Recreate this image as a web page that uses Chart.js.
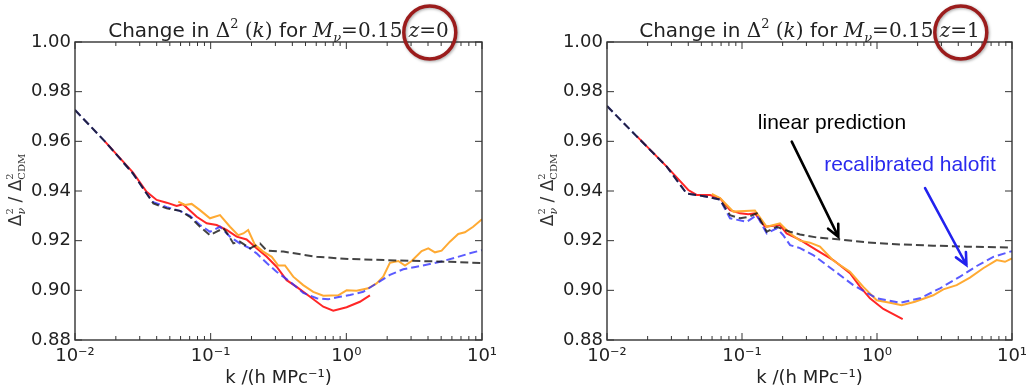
<!DOCTYPE html>
<html>
<head>
<meta charset="utf-8">
<script src="https://cdn.jsdelivr.net/npm/chart.js@4.4.0/dist/chart.umd.min.js"></script>
<style>
  html, body { margin: 0; padding: 0; background: #fff; }
  #wrap { position: relative; width: 1027px; height: 390px; overflow: hidden; }
  canvas { position: absolute; top: 0; }
</style>
</head>
<body>
<div id="wrap">
  <canvas id="left" width="513" height="390" style="left:0"></canvas>
  <canvas id="right" width="530" height="390" style="left:513px"></canvas>
</div>
<script>
// axes
const xTicks = [0.01, 0.1, 1, 10];
const xTickLabels = ['10\u207B\u00B2', '10\u207B\u00B9', '10\u2070', '10\u00B9'];
const yTicks = [0.88, 0.90, 0.92, 0.94, 0.96, 0.98, 1.00];
const yTickLabels = ['0.88', '0.90', '0.92', '0.94', '0.96', '0.98', '1.00'];

// z = 0 panel
const kLin0 = [0.01, 0.0166, 0.0267, 0.0337, 0.0378, 0.0474, 0.0594, 0.0704, 0.0834, 0.0988, 0.1107, 0.124, 0.135, 0.147, 0.164, 0.195, 0.231, 0.259, 0.343, 0.604, 1.064, 2.48, 5.80, 10];
const lin0 = [0.9726, 0.960, 0.9471, 0.9390, 0.9350, 0.9330, 0.9320, 0.9296, 0.9256, 0.9222, 0.9236, 0.9250, 0.9222, 0.9189, 0.9196, 0.9169, 0.9189, 0.9160, 0.9156, 0.9135, 0.9126, 0.9120, 0.9115, 0.9110];
const kHalo0 = [0.01, 0.0166, 0.0267, 0.0337, 0.0378, 0.0474, 0.0594, 0.0704, 0.0834, 0.0988, 0.1172, 0.1388, 0.164, 0.195, 0.218, 0.259, 0.306, 0.384, 0.481, 0.604, 0.736, 0.898, 1.064, 1.332, 1.671, 2.094, 2.625, 3.294, 4.127, 5.17, 6.50, 8.14, 10];
const halo0 = [0.9726, 0.960, 0.9471, 0.9390, 0.9355, 0.9335, 0.9320, 0.9300, 0.9263, 0.9236, 0.9256, 0.9216, 0.9189, 0.9169, 0.9149, 0.9110, 0.9075, 0.9035, 0.8990, 0.8968, 0.8964, 0.8974, 0.8981, 0.8994, 0.9028, 0.9062, 0.9085, 0.9095, 0.9106, 0.9118, 0.9133, 0.9149, 0.9162];
const kSim0 = [0.0166, 0.0267, 0.0337, 0.040, 0.0474, 0.0561, 0.0625, 0.0789, 0.0935, 0.1107, 0.131, 0.1555, 0.184, 0.218, 0.259, 0.306, 0.363, 0.430, 0.540, 0.676, 0.801, 1.005, 1.259, 1.492];
const sim0 = [0.960, 0.9475, 0.9397, 0.9364, 0.9353, 0.9340, 0.9347, 0.9296, 0.9270, 0.9263, 0.9243, 0.9216, 0.9205, 0.9169, 0.9135, 0.9095, 0.9041, 0.9014, 0.8974, 0.8934, 0.8918, 0.8932, 0.8954, 0.8980];
const kOrig0 = [0.0577, 0.0647, 0.0724, 0.0834, 0.0988, 0.1172, 0.1388, 0.1595, 0.174, 0.189, 0.212, 0.244, 0.282, 0.315, 0.353, 0.406, 0.481, 0.570, 0.676, 0.871, 1.005, 1.19, 1.449, 1.671, 1.87, 2.094, 2.415, 2.705, 3.03, 3.59, 4.02, 4.50, 5.04, 5.80, 6.68, 7.48, 8.61, 10];
const orig0 = [0.9357, 0.9344, 0.9348, 0.9323, 0.9290, 0.9303, 0.9256, 0.9222, 0.9229, 0.9243, 0.9183, 0.9156, 0.9135, 0.9100, 0.9100, 0.9055, 0.9021, 0.8994, 0.8978, 0.8980, 0.9000, 0.8998, 0.9008, 0.9028, 0.9055, 0.9111, 0.9118, 0.9100, 0.9118, 0.9158, 0.9169, 0.9153, 0.9160, 0.9196, 0.9227, 0.9234, 0.9256, 0.9286];

// z = 1 panel
const kLin1 = [0.01, 0.0166, 0.0277, 0.0389, 0.0548, 0.0688, 0.0815, 0.0967, 0.1114, 0.1285, 0.1525, 0.181, 0.202, 0.227, 0.269, 0.357, 0.532, 0.839, 1.48, 2.61, 4.62, 10];
const lin1 = [0.9742, 0.962, 0.9498, 0.939, 0.9377, 0.9365, 0.9303, 0.929, 0.9296, 0.931, 0.9236, 0.9256, 0.9246, 0.9236, 0.9225, 0.9213, 0.9205, 0.9193, 0.9185, 0.918, 0.9176, 0.9172];
const kHalo1 = [0.01, 0.0166, 0.0277, 0.0389, 0.0548, 0.0688, 0.0815, 0.1084, 0.1285, 0.1525, 0.181, 0.202, 0.227, 0.269, 0.337, 0.474, 0.667, 0.995, 1.48, 2.08, 2.93, 4.12, 5.48, 7.27, 10];
const halo1 = [0.9742, 0.962, 0.9498, 0.939, 0.9377, 0.9365, 0.929, 0.9276, 0.9303, 0.9229, 0.925, 0.9222, 0.9182, 0.9170, 0.9142, 0.9082, 0.9021, 0.8968, 0.8950, 0.8968, 0.9008, 0.9055, 0.9098, 0.9135, 0.9158];
const kSim1 = [0.0166, 0.0277, 0.040, 0.0461, 0.058, 0.0688, 0.0815, 0.0967, 0.1114, 0.1247, 0.148, 0.191, 0.214, 0.269, 0.357, 0.474, 0.631, 0.748, 0.887, 1.114, 1.55];
const sim1 = [0.9621, 0.9498, 0.9404, 0.9384, 0.9384, 0.937, 0.9323, 0.931, 0.9306, 0.931, 0.9256, 0.9263, 0.9229, 0.9203, 0.9162, 0.9122, 0.9069, 0.9015, 0.8968, 0.8925, 0.8884];
const kOrig1 = [0.0597, 0.0688, 0.0863, 0.1247, 0.1525, 0.191, 0.227, 0.269, 0.319, 0.378, 0.474, 0.631, 0.792, 0.995, 1.248, 1.524, 1.91, 2.61, 3.10, 3.89, 4.88, 6.12, 7.70, 8.87, 10];
const orig1 = [0.9388, 0.9372, 0.9317, 0.9321, 0.9256, 0.927, 0.9229, 0.920, 0.9192, 0.9176, 0.9120, 0.9075, 0.9014, 0.8960, 0.8950, 0.8940, 0.8954, 0.8980, 0.9004, 0.9021, 0.9051, 0.9089, 0.9122, 0.9115, 0.9129];

// annotation anchors (k, ratio) for the z = 1 panel
const linNote = { text: 'linear prediction', k: 0.464, v: 0.9674, from: [0.2336, 0.9599], to: [0.517, 0.9216] };
const haloNote = { text: 'recalibrated halofit', k: 1.755, v: 0.9505, from: [2.27, 0.9412], to: [4.60, 0.9102] };

const SANS = '"DejaVu Sans"';
const SERIF = '"DejaVu Serif"';

function pts(ks, vs) {
    return ks.map((k, i) => ({ x: k, y: vs[i] }));
}

function layoutRuns(ctx, runs) {
    let x = 0, prevX = 0, prevW = 0;
    const out = [];
    for (const r of runs) {
        ctx.font = r.f;
        const w = ctx.measureText(r.t).width;
        if (r.st) {
            out.push({ ...r, x: prevX, w });
            x = prevX + Math.max(prevW, w);
        } else {
            out.push({ ...r, x, w });
            prevX = x; prevW = w;
            x += w;
        }
    }
    return { items: out, width: x };
}

function drawRuns(ctx, runs, cx, base) {
    const lay = layoutRuns(ctx, runs);
    const x0 = cx - lay.width / 2;
    ctx.textBaseline = 'alphabetic';
    ctx.textAlign = 'left';
    for (const it of lay.items) {
        ctx.font = it.f;
        ctx.fillText(it.t, x0 + it.x, base + (it.dy || 0));
    }
    return lay.items.map(it => ({ ...it, x: x0 + it.x }));
}

function arrow(ctx, x0, y0, x1, y1, color) {
    const a = Math.atan2(y1 - y0, x1 - x0);
    const h = 13, spread = 0.45;
    ctx.strokeStyle = color;
    ctx.lineWidth = 2.6;
    ctx.lineCap = 'round';
    ctx.beginPath();
    ctx.moveTo(x0, y0);
    ctx.lineTo(x1, y1);
    ctx.moveTo(x1 - h * Math.cos(a - spread), y1 - h * Math.sin(a - spread));
    ctx.lineTo(x1, y1);
    ctx.lineTo(x1 - h * Math.cos(a + spread), y1 - h * Math.sin(a + spread));
    ctx.stroke();
}

const decor = {
    id: 'decor',
    afterDatasetsDraw(chart, args, opts) {
        const { ctx, chartArea: a, scales: { x, y } } = chart;
        ctx.save();
        // frame
        ctx.strokeStyle = '#333';
        ctx.lineWidth = 1.4;
        ctx.strokeRect(a.left, a.top, a.right - a.left, a.bottom - a.top);
        // inward ticks
        ctx.lineWidth = 1;
        ctx.beginPath();
        for (let i = 0; i < xTicks.length; i++) {
            const px = x.getPixelForValue(xTicks[i]);
            ctx.moveTo(px, a.bottom); ctx.lineTo(px, a.bottom - 7);
            ctx.moveTo(px, a.top); ctx.lineTo(px, a.top + 7);
            if (i < xTicks.length - 1) {
                for (let m = 2; m <= 9; m++) {
                    const mx = x.getPixelForValue(xTicks[i] * m);
                    ctx.moveTo(mx, a.bottom); ctx.lineTo(mx, a.bottom - 4);
                    ctx.moveTo(mx, a.top); ctx.lineTo(mx, a.top + 4);
                }
            }
        }
        for (const v of yTicks) {
            const py = y.getPixelForValue(v);
            ctx.moveTo(a.left, py); ctx.lineTo(a.left + 7, py);
            ctx.moveTo(a.right, py); ctx.lineTo(a.right - 7, py);
        }
        ctx.stroke();

        // annotations
        if (opts.notes) {
            ctx.fillStyle = '#000';
            ctx.font = '21px "Liberation Sans"';
            ctx.textAlign = 'center';
            ctx.textBaseline = 'middle';
            ctx.fillText(linNote.text, x.getPixelForValue(linNote.k), y.getPixelForValue(linNote.v));
            ctx.fillStyle = '#2a2aee';
            ctx.fillText(haloNote.text, x.getPixelForValue(haloNote.k), y.getPixelForValue(haloNote.v));
            arrow(ctx, x.getPixelForValue(linNote.from[0]), y.getPixelForValue(linNote.from[1]),
                x.getPixelForValue(linNote.to[0]), y.getPixelForValue(linNote.to[1]), '#000');
            arrow(ctx, x.getPixelForValue(haloNote.from[0]), y.getPixelForValue(haloNote.from[1]),
                x.getPixelForValue(haloNote.to[0]), y.getPixelForValue(haloNote.to[1]), '#2222ee');
        }
        ctx.restore();
    },
    afterDraw(chart, args, opts) {
        const { ctx, chartArea: a } = chart;
        ctx.save();
        ctx.fillStyle = '#222';
        // title with math parts
        const runs = [
            { t: 'Change in ', f: '20px ' + SANS },
            { t: '\u0394', f: '20px ' + SERIF },
            { t: '2', f: '13px ' + SERIF, dy: -9 },
            { t: ' (', f: '20px ' + SERIF },
            { t: 'k', f: 'italic 20px ' + SERIF },
            { t: ')', f: '20px ' + SERIF },
            { t: ' for ', f: '20px ' + SANS },
            { t: 'M', f: 'italic 20px ' + SERIF },
            { t: '\u03BD', f: 'italic 13px ' + SERIF, dy: 5 },
            { t: '=0.15', f: '20px ' + SERIF },
            { t: ' ', f: '20px ' + SERIF },
            { t: 'z', f: 'italic 20px ' + SERIF, mark: true },
            { t: '=' + opts.z, f: '20px ' + SERIF, mark: true }
        ];
        const placed = drawRuns(ctx, runs, (a.left + a.right) / 2, 37);
        const marked = placed.filter(p => p.mark);
        const mx0 = marked[0].x, mx1 = marked[marked.length - 1].x + marked[marked.length - 1].w;
        ctx.strokeStyle = '#9b1c1c';
        ctx.lineWidth = 3.5;
        ctx.shadowColor = 'rgba(0,0,0,0.35)';
        ctx.shadowBlur = 3;
        ctx.shadowOffsetX = 1;
        ctx.shadowOffsetY = 1;
        ctx.beginPath();
        ctx.ellipse((mx0 + mx1) / 2 + 1, 32.5, 26, 26.5, 0, 0, Math.PI * 2);
        ctx.stroke();
        ctx.shadowColor = 'transparent';

        // y axis label, rotated
        ctx.translate(a.left - 54.5, (a.top + a.bottom) / 2 - 1);
        ctx.rotate(-Math.PI / 2);
        ctx.fillStyle = '#333';
        drawRuns(ctx, [
            { t: '\u0394', f: '17px ' + SANS },
            { t: '2', f: '10px ' + SERIF, dy: -8 },
            { t: '\u03BD', f: 'italic 11px ' + SERIF, dy: 4, st: true },
            { t: ' / ', f: '17px ' + SANS },
            { t: '\u0394', f: '17px ' + SANS },
            { t: '2', f: '10px ' + SERIF, dy: -8 },
            { t: 'CDM', f: '10px ' + SERIF, dy: 4, st: true }
        ], 0, 0);
        ctx.restore();
    }
};

function makeChart(id, padLeft, z, notes, series) {
    const [kl, l, kh, h, ks, s, ko, o] = series;
    return new Chart(document.getElementById(id), {
        type: 'line',
        data: {
            datasets: [
                { data: pts(kl, l), borderColor: 'rgba(20,20,20,0.8)', borderWidth: 2, borderDash: [8, 4] },
                { data: pts(kh, h), borderColor: 'rgba(50,50,255,0.8)', borderWidth: 2, borderDash: [8, 4] },
                { data: pts(ko, o), borderColor: '#ffaa33', borderWidth: 2 },
                { data: pts(ks, s), borderColor: '#ff2626', borderWidth: 2 }
            ]
        },
        options: {
            responsive: false,
            animation: false,
            layout: { padding: { left: padLeft, right: 31, top: 42, bottom: 0 } },
            elements: { point: { radius: 0 }, line: { tension: 0 } },
            plugins: {
                legend: { display: false },
                tooltip: { enabled: false },
                decor: { z: z, notes: notes }
            },
            scales: {
                x: {
                    type: 'logarithmic',
                    min: 0.01,
                    max: 10,
                    afterBuildTicks: sc => { sc.ticks = xTicks.map(v => ({ value: v })); },
                    afterFit: sc => { sc.height = 50; },
                    grid: { display: false, drawTicks: false },
                    border: { display: false },
                    ticks: {
                        autoSkip: false, maxRotation: 0, padding: 6, color: '#222',
                        font: { family: 'DejaVu Sans', size: 18 },
                        callback: (v, i) => xTickLabels[i]
                    },
                    title: {
                        display: true, text: 'k /(h MPc\u207B\u00B9)', color: '#222',
                        font: { family: 'DejaVu Sans', size: 18 },
                        padding: { top: 0, bottom: 1 }
                    }
                },
                y: {
                    min: 0.88,
                    max: 1.0,
                    afterBuildTicks: sc => { sc.ticks = yTicks.map(v => ({ value: v })); },
                    afterFit: sc => { sc.width = 75; },
                    grid: { display: false, drawTicks: false },
                    border: { display: false },
                    ticks: {
                        padding: 4, color: '#222',
                        font: { family: 'DejaVu Sans', size: 18 },
                        callback: (v, i) => yTickLabels[i]
                    }
                }
            }
        },
        plugins: [decor]
    });
}

makeChart('left', 0, '0', false, [kLin0, lin0, kHalo0, halo0, kSim0, sim0, kOrig0, orig0]);
makeChart('right', 19, '1', true, [kLin1, lin1, kHalo1, halo1, kSim1, sim1, kOrig1, orig1]);
</script>
</body>
</html>
